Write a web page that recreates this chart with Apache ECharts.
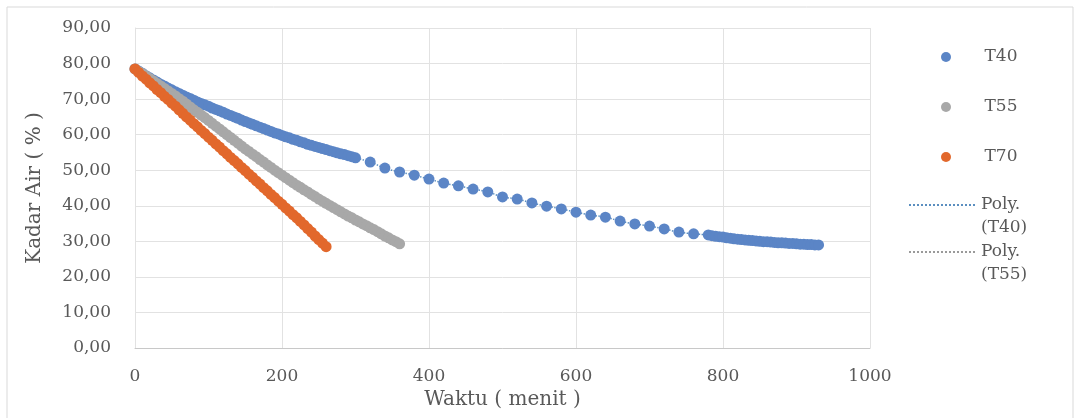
<!DOCTYPE html>
<html>
<head>
<meta charset="utf-8">
<script src="https://cdn.jsdelivr.net/npm/echarts@6/dist/echarts.min.js"></script>
<style>
html,body{margin:0;padding:0;background:#fff;}
#chart{width:1077px;height:418px;}
</style>
</head>
<body>
<div id="chart"></div>
<script>
// ---- data ----
var t40Time = [0,5,10,15,20,25,30,35,40,45,50,55,60,65,70,75,80,85,90,95,100,105,110,115,120,125,130,135,140,145,150,
  155,160,165,170,175,180,185,190,195,200,205,210,215,220,225,230,235,240,245,250,255,260,265,270,275,280,285,290,295,300,
  320,340,360,380,400,420,440,460,480,500,520,540,560,580,600,620,640,660,680,700,720,740,760,
  780,785,790,795,800,805,810,815,820,825,830,835,840,845,850,855,860,865,870,875,880,885,890,895,900,905,910,915,920,925,930];
var t40Value = [78.5,77.9,77.3,76.6,76.0,75.4,74.8,74.2,73.7,73.1,72.6,72.1,71.6,71.1,70.6,70.2,69.7,69.2,68.8,68.4,68.0,67.5,67.1,66.7,66.3,65.8,65.4,65.0,64.6,64.1,63.7,
  63.3,62.9,62.5,62.1,61.7,61.3,60.9,60.5,60.2,59.8,59.4,59.1,58.7,58.4,58.0,57.7,57.3,57.0,56.7,56.4,56.1,55.8,55.5,55.2,54.9,54.6,54.4,54.1,53.8,53.5,
  52.3,50.6,49.5,48.6,47.5,46.4,45.6,44.7,43.9,42.5,41.9,40.8,39.9,39.1,38.2,37.4,36.8,35.7,34.9,34.3,33.5,32.6,32.1,
  31.8,31.6,31.4,31.3,31.2,31.0,30.9,30.7,30.6,30.5,30.4,30.3,30.2,30.1,30.0,29.9,29.9,29.8,29.7,29.6,29.6,29.5,29.4,29.4,29.3,29.2,29.2,29.1,29.1,29.0,29.0];

var t55Time = [0,5,10,15,20,25,30,35,40,45,50,55,60,65,70,75,80,85,90,95,100,105,110,115,120,125,130,135,140,145,150,155,160,165,170,175,180,
  185,190,195,200,205,210,215,220,225,230,235,240,245,250,255,260,265,270,275,280,285,290,295,300,305,310,315,320,325,330,335,340,345,350,355,360];
var t55Value = [78.5,77.8,77.2,76.5,75.8,75.1,74.4,73.7,73.0,72.3,71.6,70.9,70.1,69.4,68.6,67.8,67.0,66.3,65.5,64.8,64.0,63.2,62.4,61.6,60.8,60.0,59.2,58.4,57.6,56.8,56.0,55.3,54.5,53.8,53.0,52.3,51.5,
  50.8,50.0,49.3,48.6,47.9,47.2,46.5,45.8,45.2,44.5,43.9,43.2,42.6,41.9,41.3,40.7,40.1,39.5,38.9,38.3,37.7,37.1,36.6,36.0,35.5,34.9,34.4,33.8,33.3,32.7,32.1,31.5,31.0,30.4,29.9,29.3];

var t70Time = [0,5,10,15,20,25,30,35,40,45,50,55,60,65,70,75,80,85,90,95,100,105,110,115,120,125,130,
  135,140,145,150,155,160,165,170,175,180,185,190,195,200,205,210,215,220,225,230,235,240,245,250,255,260];
var t70Value = [78.5,77.5,76.5,75.6,74.6,73.7,72.7,71.8,70.8,69.9,68.9,68.0,67.0,66.0,65.0,64.1,63.1,62.2,61.2,60.3,59.3,58.4,57.4,56.5,55.5,54.6,53.6,
  52.7,51.8,50.8,49.9,48.9,48.0,47.0,46.1,45.1,44.2,43.2,42.3,41.3,40.4,39.4,38.5,37.5,36.6,35.6,34.6,33.6,32.6,31.5,30.5,29.5,28.5];

var xTicks = [0,200,400,600,800,1000];
var yTicks = [0,10,20,30,40,50,60,70,80,90];

var names = ['T40','T55','T70','Poly. (T40)','Poly. (T55)'];
var colors = {blue:'#5B85C6', gray:'#A8A8A8', orange:'#E2682C', trend40:'#5B8FC0', trend55:'#9A9A9A'};

function pairs(xs, ys){ return xs.map(function(x,i){ return [x, ys[i]]; }); }

var FONT = 'DejaVu Serif';
var TXT = '#595959';

var chart = echarts.init(document.getElementById('chart'), null, {renderer:'canvas'});

function legendItem(name, left, top, poly){
  var l = {
    data:[name], left:left, top:top, padding:0, itemWidth:67, itemHeight:10, itemGap:0,
    orient:'vertical', selectedMode:false,
    textStyle:{fontFamily:FONT, fontSize:17, color:TXT, lineHeight: poly ? 23 : 20},
    formatter: function(n){ return n.indexOf('Poly.') === 0 ? ' \n' + n.replace(' ', '\n') : n; }
  };
  if (poly) l.itemStyle = {opacity:0};
  return l;
}

chart.setOption({
  animation:false,
  backgroundColor:'#fff',
  graphic:[{type:'rect', shape:{x:7,y:7,width:1066,height:430}, style:{fill:'none', stroke:'#D9D9D9', lineWidth:1}, silent:true}],
  grid:{left:135, right:207, top:28, bottom:70},
  legend:[
    legendItem(names[0], 941, 47, false),
    legendItem(names[1], 941, 97, false),
    legendItem(names[2], 941, 147, false),
    legendItem(names[3], 908, 170.5, true),
    legendItem(names[4], 908, 217.5, true)
  ],
  xAxis:{
    type:'value', min:xTicks[0], max:xTicks[xTicks.length-1], interval:200,
    name:'Waktu ( menit )', nameLocation:'middle', nameGap:33,
    nameTextStyle:{fontFamily:FONT, fontSize:20, color:TXT},
    axisLine:{show:true, lineStyle:{color:'#C8C8C8', width:1}},
    axisTick:{show:false},
    axisLabel:{fontFamily:FONT, fontSize:17, color:TXT, margin:20,
      formatter:function(v){ return String(v); }},
    splitLine:{show:true, lineStyle:{color:'#E2E2E2', width:1}}
  },
  yAxis:{
    type:'value', min:yTicks[0], max:yTicks[yTicks.length-1], interval:10,
    name:'Kadar Air ( % )', nameLocation:'middle', nameGap:90, nameRotate:90,
    nameTextStyle:{fontFamily:FONT, fontSize:20, color:TXT},
    axisLine:{show:true, lineStyle:{color:'#E2E2E2', width:1}},
    axisTick:{show:false},
    axisLabel:{fontFamily:FONT, fontSize:17, color:TXT, margin:24,
      formatter:function(v){ return v.toFixed(2).replace('.', ','); }},
    splitLine:{show:true, lineStyle:{color:'#E2E2E2', width:1}}
  },
  series:[
    {name:names[3], type:'line', data:pairs(t40Time,t40Value), showSymbol:false, symbol:'none', smooth:true,
      lineStyle:{type:'dotted', width:1.5, color:colors.trend40}, itemStyle:{color:colors.trend40}, z:1},
    {name:names[4], type:'line', data:pairs(t55Time,t55Value), showSymbol:false, symbol:'none', smooth:true,
      lineStyle:{type:'dotted', width:1.5, color:colors.trend55}, itemStyle:{color:colors.trend55}, z:1},
    {name:names[0], type:'scatter', data:pairs(t40Time,t40Value), symbol:'circle', symbolSize:11,
      itemStyle:{color:colors.blue, opacity:1}, z:2},
    {name:names[1], type:'scatter', data:pairs(t55Time,t55Value), symbol:'circle', symbolSize:11,
      itemStyle:{color:colors.gray, opacity:1}, z:3},
    {name:names[2], type:'scatter', data:pairs(t70Time,t70Value), symbol:'circle', symbolSize:11,
      itemStyle:{color:colors.orange, opacity:1}, z:4}
  ]
});
</script>
</body>
</html>
